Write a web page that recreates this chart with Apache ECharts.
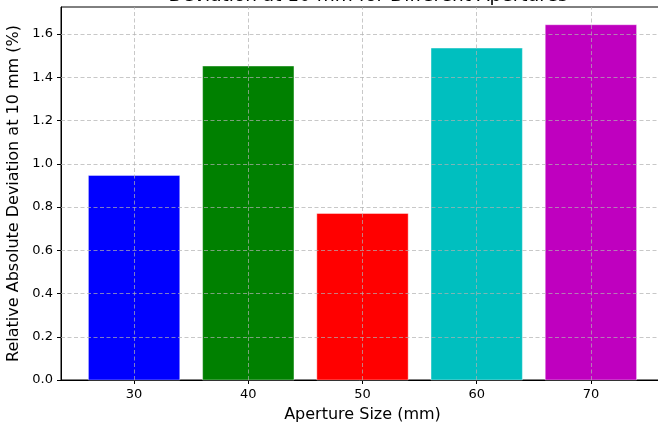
<!DOCTYPE html>
<html>
<head>
<meta charset="utf-8">
<script src="https://cdn.jsdelivr.net/npm/echarts@6/dist/echarts.min.js"></script>
<style>
html,body{margin:0;padding:0;background:#fff;}
#chart{width:658px;height:426px;}
</style>
</head>
<body>
<div id="chart"></div>
<script>
const apertures = [30, 40, 50, 60, 70];
const deviations = [0.946, 1.452, 0.770, 1.535, 1.643];
const barColors = ['#0000ff', '#008000', '#ff0000', '#00bfbf', '#bf00bf'];
const xTicks = [30, 40, 50, 60, 70];
const yTicks = [0.0, 0.2, 0.4, 0.6, 0.8, 1.0, 1.2, 1.4, 1.6];
const barWidthUnits = 8;
const xMin = 23.6, xMax = 76.4, yMax = 1.725;

const font = 'DejaVu Sans';
const chart = echarts.init(document.getElementById('chart'));

const gridLineStyle = {type: [4, 2.5], color: 'rgba(176,176,176,0.7)', width: 1};
const markData = xTicks.map(v => ({xAxis: v})).concat(yTicks.slice(1).map(v => ({yAxis: v})));

chart.setOption({
  animation: false,
  title: {
    text: 'Deviation at 10 mm for Different Apertures',
    left: 363, textAlign: 'center', top: -18,
    textStyle: {fontFamily: font, fontSize: 18.5, fontWeight: 'normal', color: '#000'}
  },
  grid: {left: 61, top: 7, width: 603, height: 373, show: true, borderColor: '#000', borderWidth: 1,
    backgroundColor: 'transparent', containLabel: false, outerBoundsMode: 'none'},
  xAxis: {
    type: 'value', min: xMin, max: xMax,
    name: 'Aperture Size (mm)', nameLocation: 'middle', nameGap: 27,
    nameTextStyle: {fontFamily: font, fontSize: 16, color: '#000'},
    axisLine: {show: true, lineStyle: {color: '#000', width: 1}},
    axisTick: {show: true, length: 4, customValues: xTicks, lineStyle: {color: '#000'}},
    axisLabel: {customValues: xTicks, fontFamily: font, fontSize: 13, color: '#000', margin: 8},
    splitLine: {show: false}
  },
  yAxis: {
    type: 'value', min: 0, max: yMax, interval: 0.2,
    name: 'Relative Absolute Deviation at 10 mm (%)', nameLocation: 'middle', nameGap: 32,
    nameTextStyle: {fontFamily: font, fontSize: 16, color: '#000'},
    axisLine: {show: true, lineStyle: {color: '#000', width: 1}},
    axisTick: {show: true, length: 4, lineStyle: {color: '#000'}},
    axisLabel: {fontFamily: font, fontSize: 13, color: '#000', margin: 8, showMaxLabel: false,
      formatter: v => v.toFixed(1)},
    splitLine: {show: false}
  },
  series: [
    {
      type: 'custom',
      data: apertures.map((a, i) => [a, deviations[i], i]),
      renderItem: function (params, api) {
        const x = api.value(0), y = api.value(1), idx = api.value(2);
        const p0 = api.coord([x - barWidthUnits / 2, y]);
        const p1 = api.coord([x + barWidthUnits / 2, 0]);
        return {
          type: 'rect',
          shape: {x: p0[0], y: p0[1], width: p1[0] - p0[0], height: p1[1] - p0[1]},
          style: {fill: barColors[idx], stroke: 'rgba(255,255,255,0.5)', lineWidth: 0.8}
        };
      },
      z: 2
    },
    {
      type: 'line', data: [], z: 10, silent: true,
      markLine: {
        silent: true, symbol: 'none', label: {show: false},
        lineStyle: gridLineStyle, emphasis: {disabled: true},
        data: markData
      }
    }
  ]
});
</script>
</body>
</html>
